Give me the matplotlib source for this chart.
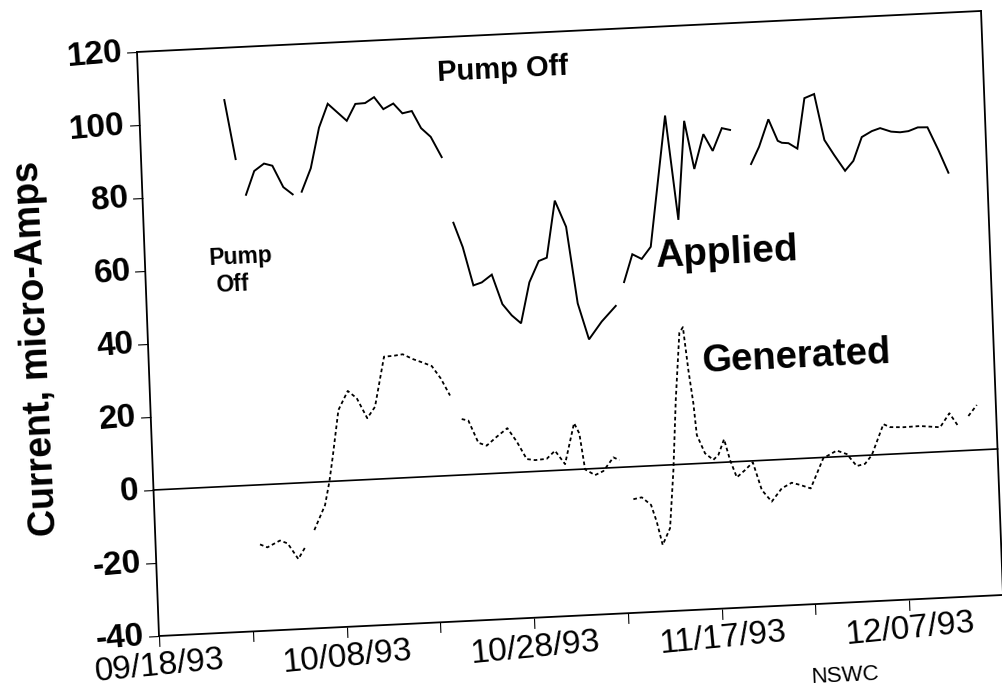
import numpy as np
import matplotlib
matplotlib.use("Agg")
import matplotlib.pyplot as plt
from matplotlib.transforms import Affine2D
import mpl_toolkits.axisartist.floating_axes as floating_axes
from mpl_toolkits.axisartist.grid_finder import FixedLocator, DictFormatter

plt.rcParams['font.family'] = ['Liberation Sans', 'DejaVu Sans']

nan = np.nan
# ---- data (days since 09/18/93, current in micro-Amps) ----
applied_days = [9.1, 10.07, nan,
                11.03, 12.0, 13.07, 13.95, 15.03, 16.0, nan,
                16.97, 18.03, 19.07, 20.09, 22.05, 23.03, 24.07, 25.05, 25.99, 27.07, 28.0, 29.01, 29.93, 30.92, 32.01, nan,
                32.99, 33.89, 34.87, 35.77, 36.87, 37.88, 38.83, 39.79, 40.84, 41.92, 42.79, 43.87, 44.97, 45.9, 46.96, 48.38, 49.94, nan,
                50.92, 51.91, 52.89, 53.9, 55.95, 56.95, 57.96, 58.85, 59.95, 60.88, 61.94, 62.81, nan,
                64.91, 65.83, 66.93, 67.84, 68.27, 68.97, 69.9, 70.85, 71.9, 72.81, 73.78, 74.89, 75.81, 76.8, 77.9, 78.79, 79.94, 80.9, 81.79, 82.8, 83.83, 84.91, 85.88]
applied_vals = [105.7, 89.4, nan,
                79.5, 85.9, 87.8, 87.1, 81.1, 79.0, nan,
                79.6, 85.9, 96.9, 103.3, 98.4, 102.9, 103.0, 104.5, 101.1, 102.5, 99.7, 100.2, 95.4, 92.9, 87.2, nan,
                69.1, 62.3, 51.7, 52.4, 54.4, 46.2, 43.0, 40.7, 51.8, 57.5, 58.3, 73.8, 66.5, 45.4, 35.4, 40.1, 44.2, nan,
                50.6, 58.1, 56.7, 59.9, 95.6, 66.9, 93.9, 80.6, 90.0, 85.3, 91.4, 90.8, nan,
                81.2, 85.8, 93.2, 87.2, 86.6, 86.4, 84.8, 98.5, 99.5, 86.8, 82.6, 78.1, 80.7, 87.1, 88.6, 89.3, 88.2, 87.9, 88.1, 89.0, 88.9, 82.5, 76.2]

generated_days = [11.12, 11.89, 13.26, 14.07, 15.14, 16.01, nan,
                  16.96, 18.2, 18.75, 19.21, 20.0, 21.07, 22.0, 23.04, 23.91, 25.07, 26.06, 27.07, 28.18, 29.23, 30.11, 31.02, 31.94, nan,
                  33.09, 33.79, 34.77, 35.64, 36.75, 37.91, 38.86, 39.85, 40.74, 41.98, 42.89, 43.91, 45.03, 45.55, 46.02, 47.06, 47.96, 49.08, 49.71, nan,
                  51.04, 51.94, 52.9, 53.44, 53.98, 54.83, 55.42, 55.95, 56.6, 57.0, 57.41, 57.81, 58.05, 58.85, 59.71, 60.27, 60.93, 61.49, 62.14, 63.05, 63.9,
                  64.75, 65.76, 66.88, 67.96, 68.84, 69.96, 71.42, 72.88, 73.94, 74.95, 75.84, 76.6, 77.95, 78.65, 80.07, 81.85, 83.98, 85.02, 85.83, nan,
                  87.03, 87.97]
generated_vals = [-16.3, -17.2, -15.5, -16.4, -20.8, -17.3, nan,
                  -13.1, -6.4, -0.1, 6.7, 19.4, 24.5, 22.4, 16.8, 19.8, 33.4, 33.5, 33.8, 32.3, 31.2, 30.2, 26.7, 21.9, nan,
                  15.3, 14.8, 8.6, 7.7, 10.0, 12.2, 8.4, 3.5, 3.1, 3.3, 5.4, 1.6, 12.7, 9.8, -0.1, -1.8, -0.8, 2.8, 2.0, nan,
                  -8.9, -8.5, -10.7, -15.4, -21.8, -17.3, -1.4, 17.7, 36.0, 37.5, 25.7, 16.5, 7.8, 2.7, 0.8, 2.1, 6.3, 0.5, -4.3, -2.4, -0.4,
                  -8.1, -11.4, -7.9, -6.5, -7.2, -8.3, -0.2, 1.7, 0.6, -2.8, -2.3, 0.0, 8.3, 7.4, 7.2, 7.3, 6.7, 10.4, 7.1, nan,
                  9.4, 12.3]

x_ticks = [0, 10, 20, 30, 40, 50, 60, 70, 80]
x_tick_labels = ['09/18/93', '', '10/08/93', '', '10/28/93', '', '11/17/93', '', '12/07/93']
y_ticks = [-40, -20, 0, 20, 40, 60, 80, 100, 120]
y_tick_labels = [str(v) for v in y_ticks]
x_range = (0, 90)
y_range = (-40, 120)

# ---- figure ----
W, H = 1003, 687
fig = plt.figure(figsize=(W / 100, H / 100), dpi=100)
fig.patch.set_facecolor('white')

# slightly rotated / sheared scan: data -> figure pixel mapping
tr = Affine2D.from_values(9.378, 0.456, -0.1375, 3.65, 153.5, 197.0)

grid_helper = floating_axes.GridHelperCurveLinear(
    tr, extremes=(x_range[0], x_range[1], y_range[0], y_range[1]),
    grid_locator1=FixedLocator(x_ticks),
    grid_locator2=FixedLocator(y_ticks),
    tick_formatter1=DictFormatter(dict(zip(x_ticks, x_tick_labels))),
    tick_formatter2=DictFormatter(dict(zip(y_ticks, y_tick_labels))))

corners = tr.transform([[x_range[0], y_range[0]], [x_range[0], y_range[1]],
                        [x_range[1], y_range[0]], [x_range[1], y_range[1]]])
xmin, ymin = corners.min(axis=0)
xmax, ymax = corners.max(axis=0)
cx, cy = (xmin + xmax) / 2, (ymin + ymax) / 2
w, h = (xmax - xmin) * 1.02, (ymax - ymin) * 1.02
rect = [(cx - w / 2) / W, (cy - h / 2) / H, w / W, h / H]

ax = fig.add_axes(rect, axes_class=floating_axes.FloatingAxes, grid_helper=grid_helper)
ax.patch.set_facecolor('white')

rot = np.degrees(np.arctan2(0.456, 9.378))

for side in ["top", "right"]:
    ax.axis[side].major_ticks.set_visible(False)
    ax.axis[side].major_ticklabels.set_visible(False)
    ax.axis[side].line.set_linewidth(1.3)

for side in ["left", "bottom"]:
    a = ax.axis[side]
    a.line.set_linewidth(1.3)
    try:
        a.major_ticks.set_tick_out(True)
    except Exception:
        pass
    a.major_ticks.set_ticksize(7.5)
    a.major_ticks.set_linewidth(1.2)

ax.axis["left"].major_ticklabels.set(fontsize=24, fontweight='bold')
ax.axis["left"].major_ticklabels.set_pad(3)
ax.axis["bottom"].major_ticklabels.set(fontsize=24, fontweight='normal')
ax.axis["bottom"].major_ticklabels.set_pad(3)
for side in ["left", "bottom"]:
    ax.axis[side].major_ticklabels.set_rotation(
        ax.axis[side].major_ticklabels.get_rotation() + rot)

aux = ax.get_aux_axes(tr)
aux.plot(applied_days, applied_vals, color='black', lw=1.4, solid_joinstyle='miter')
aux.plot(generated_days, generated_vals, color='black', lw=1.3, linestyle=(0, (2.0, 1.6)))
aux.plot(list(x_range), [0, 0], color='black', lw=1.2)

kw = dict(rotation=rot, rotation_mode='anchor', ha='center', va='baseline', color='black')
aux.text(38.86, 108.2, 'Pump Off', fontsize=21, fontweight='bold', **kw)
aux.text(10.23, 60.9, 'Pump', fontsize=16.5, fontweight='bold', **kw)
aux.text(9.26, 53.4, 'Off', fontsize=16.5, fontweight='bold', **kw)
aux.text(61.95, 54.3, 'Applied', fontsize=28, fontweight='bold', **kw)
aux.text(69.0, 25.1, 'Generated', fontsize=27.5, fontweight='bold', **kw)

fig.text(37 / W, 1 - 348.5 / H, 'Current, micro-Amps', rotation=90 + rot,
         ha='center', va='center', fontsize=27, fontweight='bold')
fig.text(845 / W, 1 - 681 / H, 'NSWC', ha='center', va='baseline',
         rotation=rot, rotation_mode='anchor', fontsize=16)

fig.savefig('out.png', dpi=100, facecolor='white')
